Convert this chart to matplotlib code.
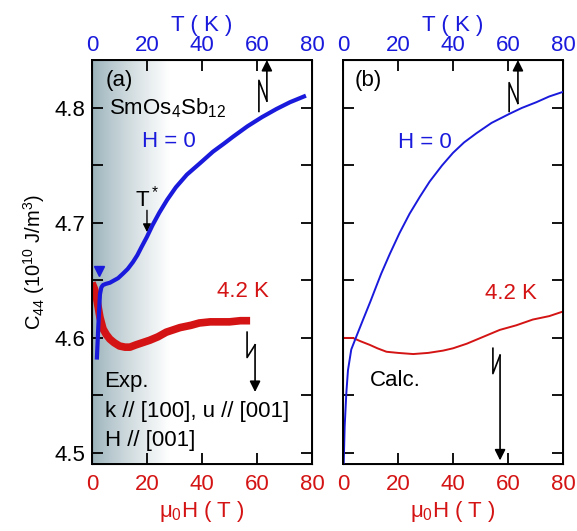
import numpy as np
import matplotlib
matplotlib.use("Agg")
import matplotlib.pyplot as plt
from matplotlib.colors import LinearSegmentedColormap
from matplotlib.ticker import MultipleLocator

plt.rcParams['font.family'] = ['Liberation Sans', 'DejaVu Sans']
plt.rcParams['mathtext.fontset'] = 'custom'
plt.rcParams['mathtext.rm'] = 'Liberation Sans'
plt.rcParams['mathtext.it'] = 'Liberation Sans'

BLUE = '#1a1adc'
RED = '#d41414'

# (a) experiment, H = 0, vs temperature
exp_T = [1.8, 2.3, 2.9, 3.4, 4.0, 5.0, 6.5, 8.0, 9.5, 11.3, 13.0, 14.9, 16.5,
         18.0, 20.0, 22.0, 24.5, 27.3, 30.5, 34.5, 39.3, 44.0, 48.0, 51.3,
         56.5, 61.8, 67.0, 72.0, 77.1]
exp_C_T = [4.583, 4.610, 4.638, 4.644, 4.646, 4.647, 4.648, 4.650, 4.652, 4.656,
           4.660, 4.666, 4.672, 4.679, 4.688, 4.698, 4.709, 4.720, 4.731, 4.742,
           4.752, 4.762, 4.769, 4.775, 4.784, 4.792, 4.799, 4.805, 4.810]
# (a) experiment, 4.2 K, vs field
exp_H = [0.0, 1.0, 1.8, 2.9, 4.0, 5.2, 6.5, 8.0, 10.0, 12.0, 13.8, 16.0, 18.5,
         21.0, 24.0, 27.0, 32.0, 36.0, 39.0, 43.0, 50.0, 54.0, 57.5]
exp_C_H = [4.648, 4.642, 4.633, 4.618, 4.608, 4.603, 4.599, 4.596, 4.593, 4.592,
           4.592, 4.594, 4.596, 4.598, 4.601, 4.605, 4.609, 4.611, 4.613, 4.614,
           4.614, 4.615, 4.615]

# (b) calculation, H = 0, vs temperature
calc_T = [0.0, 0.25, 0.6, 1.2, 1.8, 3.0, 4.8, 7.3, 10.0, 12.1, 13.9, 17.0, 20.5,
          24.2, 28.0, 31.5, 36.0, 40.0, 44.0, 48.5, 54.0, 60.6, 65.0, 70.3, 75.0, 80.0]
calc_C_T = [4.490, 4.491, 4.523, 4.552, 4.572, 4.590, 4.601, 4.616, 4.632, 4.645,
            4.656, 4.673, 4.691, 4.708, 4.723, 4.736, 4.750, 4.761, 4.770, 4.778,
            4.787, 4.795, 4.800, 4.805, 4.810, 4.814]
# (b) calculation, 4.2 K, vs field
calc_H = [0.0, 3.6, 6.5, 9.7, 12.5, 15.8, 20.0, 25.5, 31.0, 36.4, 40.0, 45.0, 50.0,
          57.0, 63.0, 69.0, 75.0, 80.0]
calc_C_H = [4.600, 4.600, 4.597, 4.594, 4.591, 4.588, 4.587, 4.586, 4.587, 4.589,
            4.591, 4.595, 4.600, 4.607, 4.611, 4.616, 4.619, 4.623]

xticks = [0, 20, 40, 60, 80]
yticks = [4.5, 4.6, 4.7, 4.8]
ylim = (4.4904, 4.8417)
fs = 16

fig = plt.figure(figsize=(5.77, 5.31), dpi=100)
ax_a = fig.add_axes([0.1594, 0.1262, 0.3813, 0.7608])
ax_b = fig.add_axes([0.5945, 0.1262, 0.3813, 0.7608])

tops = []
for ax in (ax_a, ax_b):
    ax.set_xlim(0, 80)
    ax.set_ylim(*ylim)
    ax.set_xticks(xticks)
    ax.set_yticks(yticks)
    ax.yaxis.set_minor_locator(MultipleLocator(0.05))
    ax.tick_params(which='both', direction='in', length=8, width=1.3,
                   right=True, top=False, labelsize=fs, pad=5)
    ax.tick_params(axis='x', labelcolor=RED, pad=7)
    for s in ax.spines.values():
        s.set_linewidth(1.4)
    ax.set_xlabel(r'$\mu_0$H ( T )', color=RED, fontsize=fs, labelpad=3)
    axt = ax.twiny()
    axt.set_xlim(0, 80)
    axt.set_xticks(xticks)
    axt.tick_params(direction='in', length=8, width=1.3, labelsize=fs,
                    labelcolor=BLUE, pad=3)
    axt.set_xlabel('T ( K )', color=BLUE, fontsize=fs, labelpad=3)
    tops.append(axt)

ax_b.set_yticklabels([])
ax_a.set_ylabel(r'C$_{44}$ (10$^{10}$ J/m$^3$)', fontsize=14.5, labelpad=5)

# shaded region in (a)
cmap = LinearSegmentedColormap.from_list('shade', ['#9ab2ba', '#ffffff'])
grad = np.linspace(0, 1, 256) ** 0.85
ax_a.imshow(grad[None, :], extent=(0, 28, ylim[0], ylim[1]), aspect='auto',
            cmap=cmap, zorder=0, interpolation='bilinear')
ax_a.set_xlim(0, 80)
ax_a.set_ylim(*ylim)

ta, tb = tops
# panel (a)
ax_a.plot(exp_H, exp_C_H, color=RED, lw=5.5, solid_capstyle='butt', zorder=3)
ta.plot(exp_T, exp_C_T, color=BLUE, lw=3.0, zorder=4)
ta.plot([2.4], [4.658], marker='v', color=BLUE, ms=7, ls='')

# panel (b)
ax_b.plot(calc_H, calc_C_H, color=RED, lw=1.4)
tb.plot(calc_T, calc_C_T, color=BLUE, lw=1.4)

arrow = dict(arrowstyle='-|>', color='k', lw=1.2, mutation_scale=16,
             shrinkA=0, shrinkB=0)

def up_arrow(ax, x1, x2, y_bot, y_top, y_mid):
    ax.plot([x1, x1, x2], [y_bot, y_top, y_mid], color='k', lw=1.2)
    ax.annotate('', xy=(x2, ylim[1]), xytext=(x2, y_mid), arrowprops=arrow,
                annotation_clip=False)

def down_arrow(ax, x1, x2, y_top, y_bot, y_mid, y_tip):
    ax.plot([x1, x1, x2], [y_top, y_bot, y_mid], color='k', lw=1.2)
    ax.annotate('', xy=(x2, y_tip), xytext=(x2, y_mid), arrowprops=arrow)

up_arrow(ta, 60.7, 63.6, 4.797, 4.824, 4.806)
down_arrow(ax_a, 56.4, 59.3, 4.605, 4.583, 4.594, 4.553)
up_arrow(tb, 60.4, 63.6, 4.797, 4.822, 4.804)
down_arrow(ax_b, 54.5, 57.1, 4.591, 4.569, 4.585, 4.4935)

# T* marker
ta.annotate('', xy=(20, 4.692), xytext=(20, 4.711), arrowprops=dict(
    arrowstyle='-|>', color='k', lw=1.0, mutation_scale=12, shrinkA=0, shrinkB=0))
ta.text(20, 4.721, r'T$^*$', ha='center', va='center', fontsize=fs)

ax_a.text(5.0, 4.824, '(a)', fontsize=fs, va='center')
ax_a.text(6.2, 4.800, r'SmOs$_4$Sb$_{12}$', fontsize=fs, va='center')
ax_a.text(18.2, 4.771, 'H = 0', fontsize=fs, va='center', color=BLUE)
ax_a.text(45.5, 4.640, '4.2 K', fontsize=fs, va='center', color=RED)
ax_a.text(4.6, 4.562, 'Exp.', fontsize=fs, va='center')
ax_a.text(4.6, 4.536, 'k // [100], u // [001]', fontsize=fs, va='center')
ax_a.text(4.6, 4.511, 'H // [001]', fontsize=fs, va='center')

ax_b.text(4.3, 4.824, '(b)', fontsize=fs, va='center')
ax_b.text(20.0, 4.770, 'H = 0', fontsize=fs, va='center', color=BLUE)
ax_b.text(51.6, 4.639, '4.2 K', fontsize=fs, va='center', color=RED)
ax_b.text(9.8, 4.563, 'Calc.', fontsize=fs, va='center')

fig.savefig('out.png', dpi=100)
